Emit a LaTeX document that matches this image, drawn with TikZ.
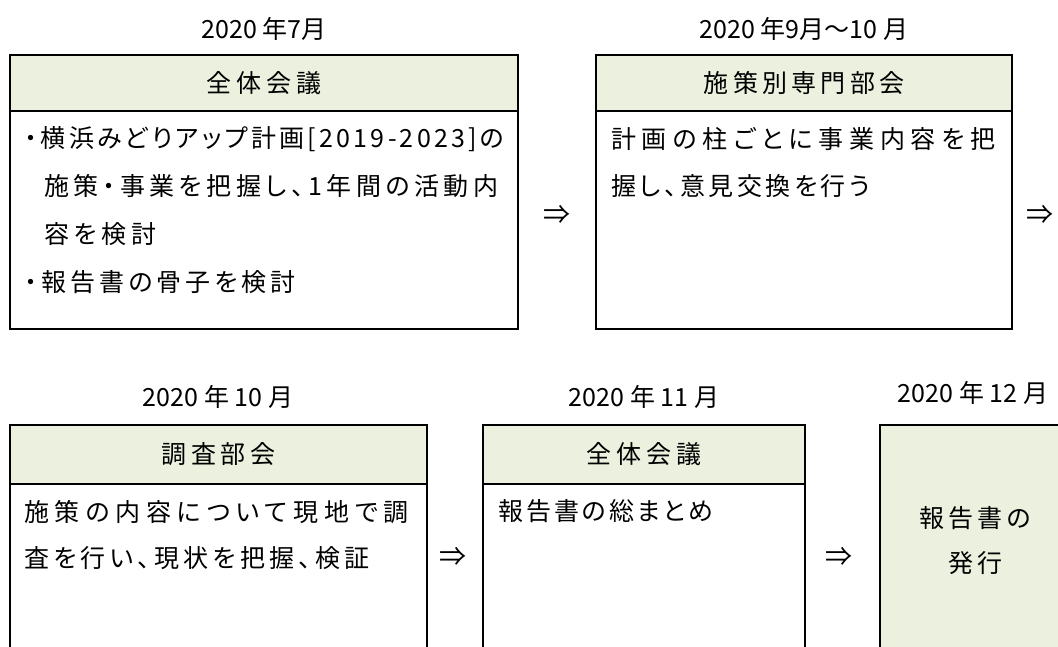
\documentclass[tikz,border=0pt]{standalone}
\usepackage{fontspec}
\newfontfamily\jp[RawFeature={+palt},LetterSpace=16]{Noto Sans CJK JP}
\newfontfamily\jpl{Noto Sans CJK JP}
\definecolor{hdrgreen}{HTML}{EBF1DE}
\newcommand{\lsp}[1]{\addfontfeature{LetterSpace=#1}}
\begin{document}
\begin{tikzpicture}[x=1pt,y=-1pt,
  hdr/.style={draw=black, line width=1.4pt, fill=hdrgreen, inner sep=0pt, font=\jp\fontsize{25}{25}\selectfont},
  body/.style={draw=black, line width=1.4pt, fill=white, inner sep=0pt},
  txt/.style={anchor=west, inner sep=0pt, font=\jp\fontsize{25}{25}\selectfont},
  lbl/.style={inner sep=0pt, font=\jpl\fontsize{25}{25}\selectfont},
  arr/.style={inner sep=0pt, font=\jpl\fontsize{27}{27}\selectfont}]
\useasboundingbox (0,0) rectangle (1058,646);
\clip (0,0) rectangle (1058,646);
% top row
\node[lbl] (l1) at (264,29) {2020 年7月};
\node[body, minimum width=508pt, minimum height=218pt] (b1) at (264,220) {};
\node[hdr, minimum width=508pt, minimum height=56pt] (h1) at (264,83) {\lsp{19}全体会議};
\node[txt] (t11) at (25,139) {\lsp{13}・横浜みどりアップ計画[2019-2023]の};
\node[txt] (t12) at (44,186) {\lsp{18}施策・事業を把握し、1年間の活動内};
\node[txt] (t13) at (44,234) {\lsp{19}容を検討};
\node[txt] (t14) at (25,282) {・報告書の骨子を検討};
\node[arr] (a1) at (557,215) {⇒};
\node[lbl] (l2) at (804,29) {2020 年9月～10 月};
\node[body, minimum width=416pt, minimum height=218pt] (b2) at (804,220) {};
\node[hdr, minimum width=416pt, minimum height=56pt] (h2) at (804,83) {\lsp{17}施策別専門部会};
\node[txt] (t21) at (611,139) {\lsp{23}計画の柱ごとに事業内容を把};
\node[txt] (t22) at (611,186) {\lsp{14}握し、意見交換を行う};
\node[arr] (a2) at (1040,215) {⇒};
% bottom row
\node[lbl] (l3) at (218,397) {2020 年 10 月};
\node[body, minimum width=417pt, minimum height=240pt] (b3) at (218.5,604) {};
\node[hdr, minimum width=417pt, minimum height=59pt] (h3) at (218.5,454.5) {\lsp{19}調査部会};
\node[txt] (t31) at (24,512) {\lsp{23}施策の内容について現地で調};
\node[txt] (t32) at (24,558) {\lsp{17}査を行い、現状を把握、検証};
\node[arr] (a3) at (453,557) {⇒};
\node[lbl] (l4) at (644,397) {2020 年 11 月};
\node[body, minimum width=322pt, minimum height=240pt] (b4) at (644,604) {};
\node[hdr, minimum width=322pt, minimum height=59pt] (h4) at (644,454.5) {\lsp{19}全体会議};
\node[txt] (t41) at (498,511) {\lsp{12}報告書の総まとめ};
\node[arr] (a4) at (839,557) {⇒};
\node[lbl] (l5) at (973,393) {2020 年 12 月};
\node[hdr, minimum width=186pt, minimum height=300pt] (b5) at (973,575) {};
\node[lbl, font=\jp\fontsize{25}{25}\selectfont] (t51) at (975,518) {報告書の};
\node[lbl, font=\jp\fontsize{25}{25}\selectfont] (t52) at (975,563) {発行};
\end{tikzpicture}
\end{document}
